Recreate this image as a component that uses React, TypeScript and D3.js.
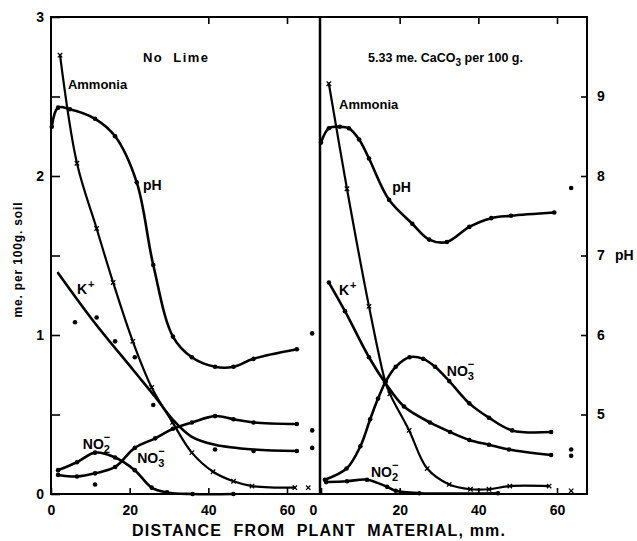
import { useEffect, useRef } from "react";
import * as d3 from "d3";

type Pt = [number, number];

// [distance from plant material (mm), value]; ions in me. per 100 g soil, pH in pH units

// No Lime panel
const noLimePH: Pt[] = [[0.2, 8.62], [1.8, 8.86], [4.8, 8.84], [11.2, 8.72], [16.3, 8.5], [21.8, 7.92], [26, 6.88], [31, 5.98], [35.8, 5.72], [41.7, 5.6], [46.4, 5.6], [51.5, 5.7], [62.5, 5.82]];
const noLimeAmmonia: Pt[] = [[2.3, 2.76], [6.6, 2.08], [11.6, 1.67], [15.8, 1.33], [20.8, 0.96], [25.6, 0.67], [30.9, 0.45], [35.8, 0.26], [41.2, 0.14], [46.4, 0.08], [51.1, 0.05], [62, 0.04]];
const noLimeK: Pt[] = [[1.8, 1.39], [10.7, 1.09], [20.9, 0.78], [26.5, 0.61], [30.9, 0.47], [35.8, 0.36], [41.7, 0.31], [51.5, 0.28], [62.5, 0.27]];
const noLimeKDots: Pt[] = [[6.1, 1.08], [11.6, 1.11], [16.3, 0.96], [21.3, 0.86], [26, 0.56], [41.7, 0.28], [51.5, 0.27], [62.5, 0.27]];
const noLimeNO3: Pt[] = [[1.8, 0.12], [6.6, 0.11], [11.2, 0.13], [16.3, 0.17], [21.3, 0.29], [26.5, 0.35], [31, 0.41], [35.8, 0.45], [41.7, 0.49], [46.4, 0.47], [51.5, 0.45], [62.5, 0.44]];
const noLimeNO2: Pt[] = [[1.8, 0.15], [6.6, 0.2], [11.2, 0.26], [16.3, 0.23], [21.3, 0.15], [25.6, 0.04], [29.5, 0.01], [36, 0], [46.4, 0]];
const noLimeStrayDots: Pt[] = [[11.2, 0.06], [66.4, 0.4], [66.4, 0.29]];
const noLimeFarPH: Pt[] = [[66.4, 6.02]];
const noLimeFarAmmonia: Pt[] = [[65.4, 0.04]];

// 5.33 me. CaCO3 per 100 g panel
const limedPH: Pt[] = [[0, 8.42], [2, 8.6], [4.8, 8.62], [7.1, 8.6], [9.7, 8.46], [12.2, 8.22], [17.3, 7.7], [23.2, 7.4], [27.5, 7.2], [32, 7.17], [37.7, 7.36], [43.3, 7.47], [48.3, 7.5], [59.3, 7.54]];
const limedAmmonia: Pt[] = [[2, 2.58], [6.6, 1.92], [12.2, 1.18], [16.3, 0.71], [17.5, 0.63], [22.4, 0.4], [27, 0.16], [32.6, 0.06], [38, 0.03], [42.7, 0.03], [48, 0.05], [58, 0.05]];
const limedK: Pt[] = [[2, 1.33], [6.1, 1.15], [12.2, 0.86], [16.3, 0.7], [21.1, 0.55], [27.7, 0.45], [32.8, 0.39], [37.7, 0.34], [42.7, 0.31], [47.8, 0.28], [58.5, 0.245]];
const limedNO3: Pt[] = [[1, 0.09], [6.5, 0.16], [10, 0.3], [12.5, 0.47], [14.5, 0.6], [16.5, 0.71], [19, 0.8], [22.5, 0.86], [26, 0.85], [29, 0.8], [32.6, 0.71], [37.7, 0.57], [42.7, 0.48], [48.6, 0.4], [58.5, 0.39]];
const limedNO2: Pt[] = [[1.3, 0.075], [6.6, 0.08], [11.7, 0.09], [16.8, 0.045], [19, 0.02], [25, 0.005], [45, 0.005]];
const limedStrayDots: Pt[] = [[63.6, 0.28], [63.6, 0.24]];
const limedFarPH: Pt[] = [[63.6, 7.85]];
const limedFarAmmonia: Pt[] = [[63.6, 0.02]];

const xTicks = [0, 20, 40, 60];
const meTicks = [0, 0.5, 1, 1.5, 2, 2.5, 3];
const phTicks = [5, 6, 7, 8, 9];

export default function App() {
  const ref = useRef<SVGSVGElement>(null);

  useEffect(() => {
    const svg = d3.select(ref.current);
    svg.selectAll("*").remove();

    const top = 17, bottom = 494, left = 51, mid = 320, right = 587;
    const font = "'Liberation Sans', Arial, sans-serif";

    const yMe = d3.scaleLinear().domain([0, 3]).range([bottom, top]);
    const yPH = d3.scaleLinear().domain([4, 10]).range([bottom, top]);
    const xL = d3.scaleLinear().domain([0, 60]).range([51, 287]);
    const xR = d3.scaleLinear().domain([0, 60]).range([321, 557]);

    svg.append("rect").attr("width", 637).attr("height", 541).attr("fill", "#fff");

    // frame + divider
    svg.append("rect")
      .attr("x", left).attr("y", top)
      .attr("width", right - left).attr("height", bottom - top)
      .attr("fill", "none").attr("stroke", "#000").attr("stroke-width", 2);
    svg.append("line")
      .attr("x1", mid).attr("x2", mid).attr("y1", top).attr("y2", bottom)
      .attr("stroke", "#000").attr("stroke-width", 2.5);

    // left axis (me.)
    const yAx = svg.append("g").attr("transform", `translate(${left},0)`)
      .call(d3.axisLeft(yMe).tickValues(meTicks).tickSize(-9).tickPadding(7)
        .tickFormat((d) => (Number.isInteger(+d) ? String(d) : "")));
    yAx.select(".domain").remove();

    // right axis (pH)
    const pAx = svg.append("g").attr("transform", `translate(${right},0)`)
      .call(d3.axisRight(yPH).tickValues(phTicks).tickSize(-6).tickPadding(10).tickFormat(d3.format("d")));
    pAx.select(".domain").remove();

    // bottom axes
    const bl = svg.append("g").attr("transform", `translate(0,${bottom})`)
      .call(d3.axisBottom(xL).tickValues(xTicks).tickSize(-6).tickPadding(11));
    const br = svg.append("g").attr("transform", `translate(0,${bottom})`)
      .call(d3.axisBottom(xR).tickValues(xTicks).tickSize(-6).tickPadding(11));
    bl.select(".domain").remove();
    br.select(".domain").remove();
    br.selectAll<SVGTextElement, number>(".tick text").filter((d) => d === 0).attr("dx", -8);

    // top ticks
    const tl = svg.append("g").attr("transform", `translate(0,${top})`)
      .call(d3.axisTop(xL).tickValues([40, 60]).tickSize(-7).tickFormat(() => ""));
    const tr = svg.append("g").attr("transform", `translate(0,${top})`)
      .call(d3.axisTop(xR).tickValues([20, 40, 60]).tickSize(-7).tickFormat(() => ""));
    tl.select(".domain").remove();
    tr.select(".domain").remove();

    svg.selectAll(".tick line").attr("stroke", "#000").attr("stroke-width", 1.6);
    svg.selectAll(".tick text")
      .attr("font-family", font).attr("font-size", 14).attr("font-weight", "bold").attr("fill", "#000");

    // curves
    const curve = (x: any, y: any, data: Pt[], w = 2.6) => {
      svg.append("path")
        .datum(data)
        .attr("d", d3.line<Pt>().x((d) => x(d[0])).y((d) => y(d[1])).curve(d3.curveCatmullRom.alpha(0.5)))
        .attr("fill", "none").attr("stroke", "#000").attr("stroke-width", w)
        .attr("stroke-linejoin", "round").attr("stroke-linecap", "round");
    };
    const dots = (x: any, y: any, data: Pt[], r = 2.3) => {
      svg.append("g").selectAll("circle").data(data).enter().append("circle")
        .attr("cx", (d) => x(d[0])).attr("cy", (d) => y(d[1])).attr("r", r).attr("fill", "#000");
    };
    const crosses = (x: any, y: any, data: Pt[], s = 2.2) => {
      svg.append("g").selectAll("path").data(data).enter().append("path")
        .attr("d", (d) => {
          const cx = x(d[0]), cy = y(d[1]);
          return `M${cx - s},${cy - s}L${cx + s},${cy + s}M${cx - s},${cy + s}L${cx + s},${cy - s}`;
        })
        .attr("stroke", "#000").attr("stroke-width", 1.3);
    };

    curve(xL, yPH, noLimePH);
    curve(xL, yMe, noLimeAmmonia, 2.2);
    curve(xL, yMe, noLimeK);
    curve(xL, yMe, noLimeNO3);
    curve(xL, yMe, noLimeNO2);
    dots(xL, yPH, noLimePH);
    dots(xL, yPH, noLimeFarPH);
    crosses(xL, yMe, noLimeAmmonia);
    crosses(xL, yMe, noLimeFarAmmonia);
    dots(xL, yMe, noLimeKDots);
    dots(xL, yMe, noLimeNO3);
    dots(xL, yMe, noLimeNO2);
    dots(xL, yMe, noLimeStrayDots);

    curve(xR, yPH, limedPH);
    curve(xR, yMe, limedAmmonia, 2.2);
    curve(xR, yMe, limedK);
    curve(xR, yMe, limedNO3);
    curve(xR, yMe, limedNO2);
    dots(xR, yPH, limedPH);
    dots(xR, yPH, limedFarPH);
    crosses(xR, yMe, limedAmmonia);
    crosses(xR, yMe, limedFarAmmonia);
    dots(xR, yMe, limedK);
    dots(xR, yMe, limedNO3);
    dots(xR, yMe, limedNO2);
    dots(xR, yMe, limedStrayDots);

    // labels
    const label = (x: number, y: number, txt: string, size = 13) =>
      svg.append("text").attr("x", x).attr("y", y).text(txt)
        .attr("font-family", font).attr("font-size", size).attr("font-weight", "bold");
    const ion = (x: number, y: number, digit: string) => {
      label(x, y, "NO", 14);
      label(x + 21, y + 4, digit, 11);
      label(x + 21, y - 8, "\u2212", 11);
    };
    const kPlus = (x: number, y: number) => {
      label(x, y, "K", 14);
      label(x + 11, y - 6, "+", 11);
    };

    label(xL(4.3), yMe(2.55), "Ammonia");
    label(xL(23.4), yMe(1.91), "pH", 14);
    kPlus(xL(6.6), yMe(1.26));
    ion(xL(8.1), yMe(0.28), "2");
    ion(xL(21.9), yMe(0.195), "3");

    label(xR(4.6), yMe(2.42), "Ammonia");
    label(xR(18.1), yMe(1.9), "pH", 14);
    kPlus(xR(4.6), yMe(1.25));
    ion(xR(32), yMe(0.74), "3");
    ion(xR(12.7), yMe(0.107), "2");

    // panel titles
    svg.append("text").attr("x", 143).attr("y", 62).text("No  Lime")
      .attr("font-family", font).attr("font-size", 13).attr("font-weight", "bold")
      .attr("textLength", 65).attr("lengthAdjust", "spacing").style("white-space", "pre");
    const t2 = svg.append("text").attr("x", 368).attr("y", 62)
      .attr("font-family", font).attr("font-size", 12.5).attr("font-weight", "bold");
    t2.append("tspan").text("5.33 me. CaCO");
    t2.append("tspan").attr("dy", 4).attr("font-size", 10).text("3");
    t2.append("tspan").attr("dy", -4).text(" per 100 g.");

    // pH unit next to 7
    svg.append("text").attr("x", 615).attr("y", yPH(7)).attr("dy", "0.35em").text("pH")
      .attr("font-family", font).attr("font-size", 14).attr("font-weight", "bold");

    // axis titles
    svg.append("text").attr("transform", `translate(22,260) rotate(-90)`)
      .attr("text-anchor", "middle").text("me. per 100g. soil")
      .attr("font-family", font).attr("font-size", 12).attr("font-weight", "bold")
      .attr("textLength", 115).attr("lengthAdjust", "spacing");
    svg.append("text").attr("x", 132).attr("y", 536).text("DISTANCE  FROM  PLANT  MATERIAL, mm.")
      .attr("font-family", font).attr("font-size", 16).attr("font-weight", "bold")
      .attr("textLength", 373).attr("lengthAdjust", "spacing").style("white-space", "pre");
  }, []);

  return (
    <svg ref={ref} width={637} height={541} style={{ position: "absolute", left: 0, top: 0 }} />
  );
}
